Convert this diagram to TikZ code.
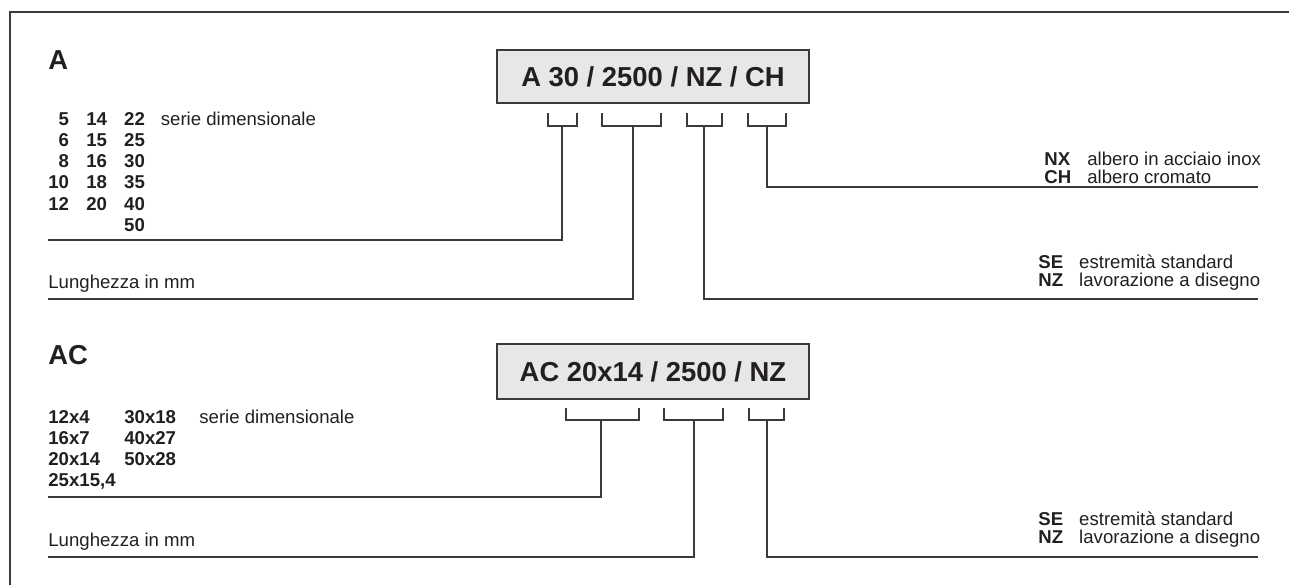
\documentclass[tikz,border=0pt]{standalone}
\usepackage{fontspec}
\setmainfont{Liberation Sans}
\usepackage{array}
\usepackage{xcolor}
\usetikzlibrary{positioning}
\definecolor{codefill}{HTML}{E6E7E8}
\definecolor{codeink}{HTML}{231F20}
\definecolor{codeline}{HTML}{3A3A3A}
\tikzset{
  codebox/.style={
    draw=codeline,
    fill=codefill,
    line width=0.7pt,
    minimum width=156pt,
    inner sep=0pt,
    text=codeink,
    font=\fontsize{13.7}{16}\selectfont\bfseries
  },
  headtext/.style={
    anchor=base west,
    inner sep=0pt,
    text=codeink,
    font=\fontsize{13.7}{16}\selectfont\bfseries
  },
  bodytext/.style={
    anchor=base west,
    inner sep=0pt,
    text=codeink,
    font=\fontsize{9.3}{10.65}\selectfont
  },
  legendtext/.style={
    anchor=base west,
    inner sep=0pt,
    text=codeink,
    font=\fontsize{9.3}{8}\selectfont
  },
  bracket/.style={
    draw=codeline,
    line width=0.6pt
  },
  leader/.style={
    draw=codeline,
    line width=0.6pt
  },
  outerframe/.style={
    draw=codeline,
    line width=0.9pt
  }
}

\begin{document}
\begin{tikzpicture}[x=0.5pt, y=-0.5pt]
\useasboundingbox (0,0) rectangle (1289,585);
\draw[outerframe] (10,585) -- (10,12) -- (1289,12);

% serie A
\node[headtext] (headA) at (48,69) {A};
\node[codebox, minimum height=26.5pt] (codeA) at (653,76.5) {A 30 / 2500 / NZ / CH};
\node[bodytext] (serieA) at (48,125) {\begin{tabular}[t]{@{}>{\bfseries}r@{\hspace{8.6pt}}>{\bfseries}r@{\hspace{8.6pt}}>{\bfseries}r@{\hspace{8pt}}l@{}}
5 & 14 & 22 & serie dimensionale\\
6 & 15 & 25 & \\
8 & 16 & 30 & \\
10 & 18 & 35 & \\
12 & 20 & 40 & \\
 & & 50 & \\
\end{tabular}};
\node[bodytext] (lenA) at (48,288) {Lunghezza in mm};
\node[legendtext] (shaftA) at (1044,165) {\begin{tabular}[t]{@{}>{\bfseries}l@{\hspace{8pt}}l@{}}
NX & albero in acciaio inox\\
CH & albero cromato\\
\end{tabular}};
\node[legendtext] (endA) at (1038,268) {\begin{tabular}[t]{@{}>{\bfseries}l@{\hspace{8pt}}l@{}}
SE & estremità standard\\
NZ & lavorazione a disegno\\
\end{tabular}};

\draw[bracket] (548,113) |- (577,126) -- (577,113);
\draw[bracket] (602,113) |- (661,126) -- (661,113);
\draw[bracket] (687,113) |- (722,126) -- (722,113);
\draw[bracket] (748,113) |- (786,126) -- (786,113);
\coordinate (a1) at (562,126);
\coordinate (a2) at (633,126);
\coordinate (a3) at (704,126);
\coordinate (a4) at (767,126);
\coordinate (a1end) at (48,240);
\coordinate (a2end) at (48,299);
\coordinate (a3end) at (1258,299);
\coordinate (a4end) at (1258,187);
\draw[leader] (a1) |- (a1end);
\draw[leader] (a2) |- (a2end);
\draw[leader] (a3) |- (a3end);
\draw[leader] (a4) |- (a4end);

% serie AC
\node[headtext] (headAC) at (48,364) {AC};
\node[codebox, minimum height=27.5pt] (codeAC) at (653,371.5) {AC 20x14 / 2500 / NZ};
\node[bodytext] (serieAC) at (48,423) {\begin{tabular}[t]{@{}>{\bfseries}p{38pt}@{}>{\bfseries}p{37.5pt}@{}l@{}}
12x4 & 30x18 & serie dimensionale\\
16x7 & 40x27 & \\
20x14 & 50x28 & \\
25x15,4 & & \\
\end{tabular}};
\node[bodytext] (lenAC) at (48,546) {Lunghezza in mm};
\node[legendtext] (endAC) at (1038,525) {\begin{tabular}[t]{@{}>{\bfseries}l@{\hspace{8pt}}l@{}}
SE & estremità standard\\
NZ & lavorazione a disegno\\
\end{tabular}};

\draw[bracket] (566,408) |- (639,420) -- (639,408);
\draw[bracket] (664,408) |- (723,420) -- (723,408);
\draw[bracket] (749,408) |- (784,420) -- (784,408);
\coordinate (c1) at (601,420);
\coordinate (c2) at (694,420);
\coordinate (c3) at (767,420);
\coordinate (c1end) at (48,497);
\coordinate (c2end) at (48,557);
\coordinate (c3end) at (1258,557);
\draw[leader] (c1) |- (c1end);
\draw[leader] (c2) |- (c2end);
\draw[leader] (c3) |- (c3end);
\end{tikzpicture}
\end{document}
